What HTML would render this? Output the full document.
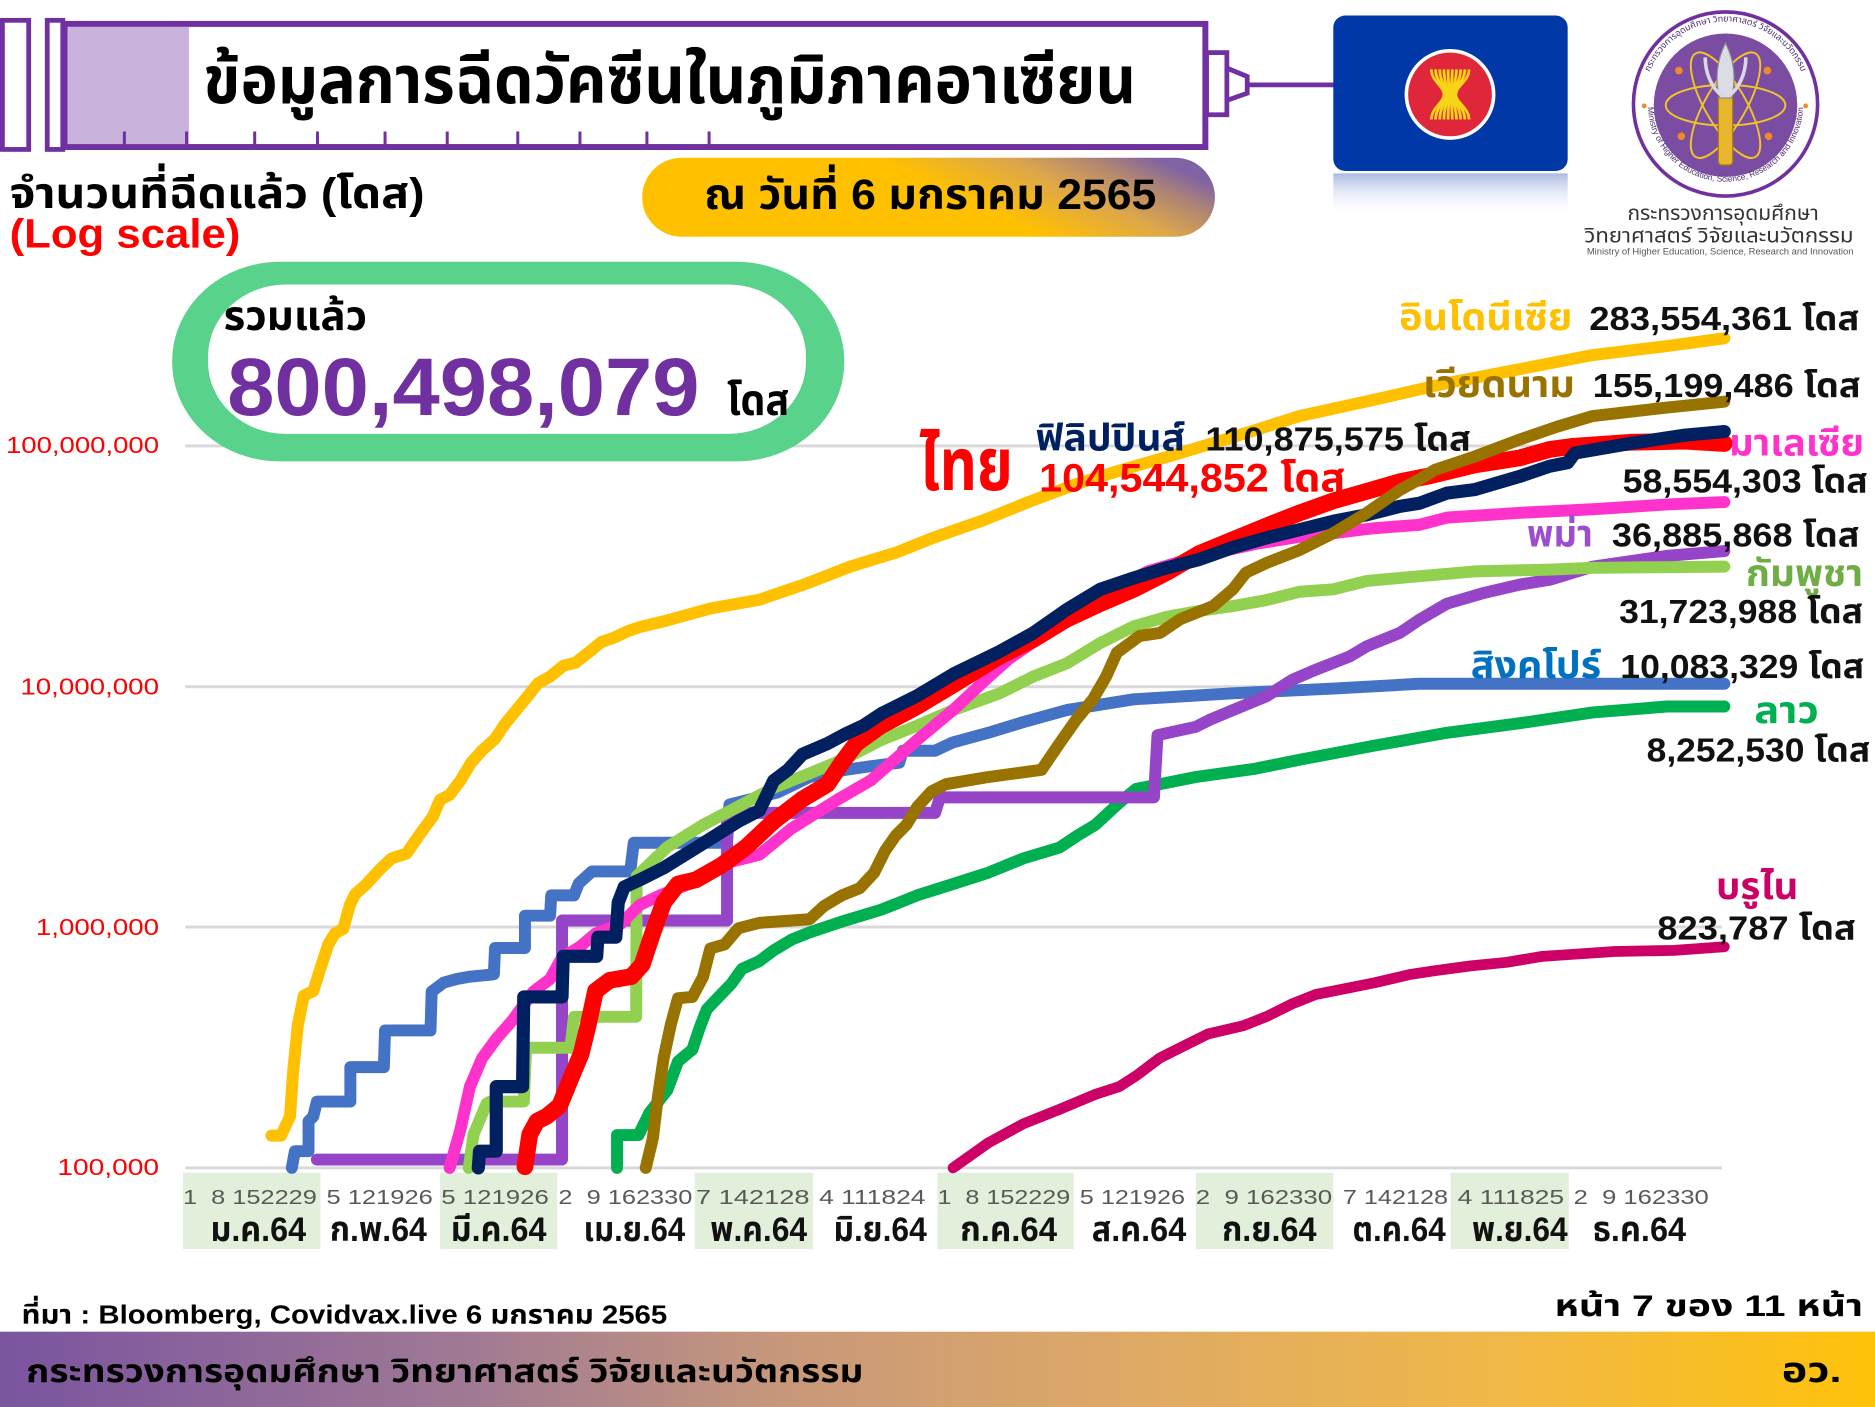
<!DOCTYPE html>
<html>
<head>
<meta charset="utf-8">
<style>
  html,body{margin:0;padding:0;background:#ffffff;overflow:hidden;}
  svg{display:block;}
  text{font-family:"Liberation Sans","Noto Sans Thai","Garuda","Loma","Tlwg Typo","DejaVu Sans",sans-serif;}
  .b{font-weight:bold;}
  .day{font-size:17px;fill:#595959;white-space:pre;}
  .mon{font-size:29px;font-weight:bold;fill:#111;}
  .yl{font-size:19px;fill:#ff0000;}
  .num{font-size:28px;font-weight:bold;fill:#111;}
  .cn{font-size:31px;font-weight:bold;}
  polyline{fill:none;stroke-linejoin:round;stroke-linecap:round;}
</style>
</head>
<body>
<svg width="1875" height="1407" viewBox="0 0 1568 1177" preserveAspectRatio="none" xmlns="http://www.w3.org/2000/svg">
  <defs>
    <linearGradient id="dateGrad" x1="0" y1="0.65" x2="1" y2="0.35">
      <stop offset="0" stop-color="#ffc000"/>
      <stop offset="0.55" stop-color="#ffc000"/>
      <stop offset="0.76" stop-color="#dca64c"/>
      <stop offset="0.9" stop-color="#ad8375"/>
      <stop offset="1" stop-color="#8063a2"/>
    </linearGradient>
    <linearGradient id="footGrad" x1="0" y1="0" x2="1" y2="0">
      <stop offset="0" stop-color="#7a549f"/>
      <stop offset="0.25" stop-color="#a07a94"/>
      <stop offset="0.42" stop-color="#c8987a"/>
      <stop offset="0.6" stop-color="#dea966"/>
      <stop offset="0.8" stop-color="#f0b848"/>
      <stop offset="1" stop-color="#ffc20a"/>
    </linearGradient>
    <linearGradient id="refl" x1="0" y1="0" x2="0" y2="1">
      <stop offset="0" stop-color="#8fa3d8" stop-opacity="0.75"/>
      <stop offset="1" stop-color="#ffffff" stop-opacity="0"/>
    </linearGradient>
    <path id="ringTop" d="M 1374,87 A 69,69 0 0 1 1512,87"/>
    <path id="ringBot" d="M 1378,87 A 65,65 0 0 0 1508,87"/>
  </defs>

  <!-- ===== Syringe header ===== -->
  <rect x="2" y="17" width="22" height="108" fill="#fff" stroke="#7030a0" stroke-width="4"/>
  <rect x="39.5" y="17" width="13" height="108" fill="#fff" stroke="#7030a0" stroke-width="4"/>
  <rect x="54" y="20" width="954" height="103" fill="#fff" stroke="#7030a0" stroke-width="5"/>
  <rect x="56.5" y="22.5" width="101.5" height="98" fill="#c9b3dd"/>
  <g stroke="#7030a0" stroke-width="2.5">
    <line x1="104" y1="110" x2="104" y2="121"/>
    <line x1="156" y1="110" x2="156" y2="121"/>
    <line x1="213" y1="110" x2="213" y2="121"/>
    <line x1="265.5" y1="110" x2="265.5" y2="121"/>
    <line x1="322" y1="110" x2="322" y2="121"/>
    <line x1="374" y1="110" x2="374" y2="121"/>
    <line x1="433" y1="110" x2="433" y2="121"/>
    <line x1="485" y1="110" x2="485" y2="121"/>
    <line x1="541" y1="110" x2="541" y2="121"/>
    <line x1="593" y1="110" x2="593" y2="121"/>
  </g>
  <rect x="1009" y="44" width="17" height="52" fill="#fff" stroke="#7030a0" stroke-width="4"/>
  <path d="M1026,57 L1043,64 L1043,78 L1026,84 Z" fill="#fff" stroke="#7030a0" stroke-width="4"/>
  <line x1="1043" y1="71" x2="1117" y2="71" stroke="#7030a0" stroke-width="4"/>
  <text x="170" y="86" class="b" font-size="56" fill="#000" textLength="780" lengthAdjust="spacingAndGlyphs">ข้อมูลการฉีดวัคซีนในภูมิภาคอาเซียน</text>

  <!-- ===== ASEAN flag ===== -->
  <rect x="1115" y="145" width="196" height="36" fill="url(#refl)"/>
  <rect x="1115" y="13" width="196" height="130" rx="10" ry="10" fill="#0038a8"/>
  <circle cx="1212.6" cy="79" r="36.5" fill="#e0263a" stroke="#ffffff" stroke-width="3"/>
  <g stroke="#f7d417" stroke-width="2.3" fill="none">
    <path d="M1197,58 C1197,68 1207.5,72 1207.5,79 C1207.5,86 1197,90 1197,100"/>
    <path d="M1200.5,58 C1200.5,68 1208.5,72 1208.5,79 C1208.5,86 1200.5,90 1200.5,100"/>
    <path d="M1204,58 C1204,68 1209.5,72 1209.5,79 C1209.5,86 1204,90 1204,100"/>
    <path d="M1207.5,58 C1207.5,68 1210.5,72 1210.5,79 C1210.5,86 1207.5,90 1207.5,100"/>
    <path d="M1211,58 C1211,68 1211.8,72 1211.8,79 C1211.8,86 1211,90 1211,100"/>
    <path d="M1214.5,58 C1214.5,68 1213.2,72 1213.2,79 C1213.2,86 1214.5,90 1214.5,100"/>
    <path d="M1218,58 C1218,68 1214.5,72 1214.5,79 C1214.5,86 1218,90 1218,100"/>
    <path d="M1221.5,58 C1221.5,68 1215.5,72 1215.5,79 C1215.5,86 1221.5,90 1221.5,100"/>
    <path d="M1225,58 C1225,68 1216.5,72 1216.5,79 C1216.5,86 1225,90 1225,100"/>
    <path d="M1228.5,58 C1228.5,68 1217.5,72 1217.5,79 C1217.5,86 1228.5,90 1228.5,100"/>
  </g>

  <!-- ===== MHESI logo ===== -->
  <circle cx="1443" cy="87" r="77" fill="#ffffff" stroke="#7030a0" stroke-width="3"/>
  <circle cx="1443" cy="88" r="60" fill="#7a4ca2"/>
  <text font-size="7.5" fill="#4b2a72"><textPath href="#ringTop" startOffset="50%" text-anchor="middle">กระทรวงการอุดมศึกษา วิทยาศาสตร์ วิจัยและนวัตกรรม</textPath></text>
  <text font-size="7" fill="#4b2a72"><textPath href="#ringBot" startOffset="50%" text-anchor="middle">Ministry of Higher Education, Science, Research and Innovation</textPath></text>
  <circle cx="1375" cy="88.6" r="2" fill="#f08a24"/>
  <circle cx="1510" cy="88.6" r="2" fill="#f08a24"/>
  <g fill="none" stroke="#f0c428" stroke-width="1.6">
    <ellipse cx="1443" cy="88" rx="50" ry="17"/>
    <ellipse cx="1443" cy="88" rx="50" ry="17" transform="rotate(60 1443 88)"/>
    <ellipse cx="1443" cy="88" rx="50" ry="17" transform="rotate(-60 1443 88)"/>
  </g>
  <circle cx="1404" cy="59" r="3.2" fill="#f08a24"/>
  <circle cx="1478" cy="59" r="3.2" fill="#f08a24"/>
  <circle cx="1406" cy="114" r="3.2" fill="#f08a24"/>
  <circle cx="1479" cy="114" r="3.2" fill="#f08a24"/>
  <rect x="1437" y="78" width="12" height="60" rx="3" fill="#e7b62c" stroke="#a87a10" stroke-width="1"/>
  <path d="M1443,36 C1450,50 1452,66 1448,82 L1438,82 C1434,66 1436,50 1443,36 Z" fill="#dcdce4" stroke="#8a8a98" stroke-width="1"/>
  <path d="M1426,48 C1426,62 1432,74 1440,80" fill="none" stroke="#d8d8e0" stroke-width="3"/>
  <path d="M1460,48 C1460,62 1454,74 1446,80" fill="none" stroke="#d8d8e0" stroke-width="3"/>
  <text x="1361" y="184" font-size="17" fill="#333" textLength="160" lengthAdjust="spacingAndGlyphs">กระทรวงการอุดมศึกษา</text>
  <text x="1325" y="203" font-size="17" fill="#333" textLength="225" lengthAdjust="spacingAndGlyphs">วิทยาศาสตร์ วิจัยและนวัตกรรม</text>
  <text x="1327" y="213" font-size="7.5" fill="#555" textLength="223" lengthAdjust="spacingAndGlyphs">Ministry of Higher Education, Science, Research and Innovation</text>

  <!-- ===== Left headings ===== -->
  <text x="8" y="174" class="b" font-size="36" fill="#000" textLength="347" lengthAdjust="spacingAndGlyphs">จำนวนที่ฉีดแล้ว (โดส)</text>
  <text x="8" y="207" class="b" font-size="34" fill="#ff0000" textLength="193" lengthAdjust="spacingAndGlyphs">(Log scale)</text>

  <!-- date pill -->
  <rect x="537" y="132" width="479" height="66" rx="33" ry="33" fill="url(#dateGrad)"/>
  <text x="589" y="175" class="b" font-size="36" fill="#000" textLength="378" lengthAdjust="spacingAndGlyphs">ณ วันที่ 6 มกราคม 2565</text>

  <!-- ===== Gridlines ===== -->
  <g stroke="#d9d9d9" stroke-width="2.5">
    <line x1="155" y1="373" x2="1440" y2="373"/>
    <line x1="155" y1="574.5" x2="1440" y2="574.5"/>
    <line x1="155" y1="775.5" x2="1440" y2="775.5"/>
    <line x1="155" y1="977" x2="1440" y2="977"/>
  </g>
  <text x="133" y="379" class="yl" text-anchor="end" textLength="128" lengthAdjust="spacingAndGlyphs">100,000,000</text>
  <text x="133" y="581" class="yl" text-anchor="end" textLength="116" lengthAdjust="spacingAndGlyphs">10,000,000</text>
  <text x="133" y="782" class="yl" text-anchor="end" textLength="103" lengthAdjust="spacingAndGlyphs">1,000,000</text>
  <text x="133" y="983" class="yl" text-anchor="end" textLength="85" lengthAdjust="spacingAndGlyphs">100,000</text>

  <!-- total pill -->
  <rect x="144" y="219" width="562" height="167" rx="90" ry="83" fill="#59d28b"/>
  <rect x="174" y="238" width="500" height="125" rx="65" ry="60" fill="#ffffff"/>
  <text x="187" y="276" class="b" font-size="34" fill="#000" textLength="120" lengthAdjust="spacingAndGlyphs">รวมแล้ว</text>
  <text x="190" y="347" class="b" font-size="68" fill="#7030a0" textLength="395" lengthAdjust="spacingAndGlyphs">800,498,079</text>
  <text x="608" y="347" class="b" font-size="36" fill="#000" textLength="52" lengthAdjust="spacingAndGlyphs">โดส</text>

  <!-- ===== X axis category boxes ===== -->
  <g fill="#e2efda">
    <rect x="153" y="981" width="115" height="64"/>
    <rect x="368" y="981" width="98" height="64"/>
    <rect x="581" y="981" width="99" height="64"/>
    <rect x="784" y="981" width="114" height="64"/>
    <rect x="1000" y="981" width="115" height="64"/>
    <rect x="1213" y="981" width="99" height="64"/>
  </g>
  <g class="day">
    <text x="153" y="1007" class="day" textLength="112" lengthAdjust="spacingAndGlyphs">1  8 152229</text>
    <text x="273" y="1007" class="day" textLength="89" lengthAdjust="spacingAndGlyphs">5 121926</text>
    <text x="369" y="1007" class="day" textLength="90" lengthAdjust="spacingAndGlyphs">5 121926</text>
    <text x="467" y="1007" class="day" textLength="112" lengthAdjust="spacingAndGlyphs">2  9 162330</text>
    <text x="582" y="1007" class="day" textLength="95" lengthAdjust="spacingAndGlyphs">7 142128</text>
    <text x="685" y="1007" class="day" textLength="89" lengthAdjust="spacingAndGlyphs">4 111824</text>
    <text x="784" y="1007" class="day" textLength="111" lengthAdjust="spacingAndGlyphs">1  8 152229</text>
    <text x="903" y="1007" class="day" textLength="88" lengthAdjust="spacingAndGlyphs">5 121926</text>
    <text x="1000" y="1007" class="day" textLength="114" lengthAdjust="spacingAndGlyphs">2  9 162330</text>
    <text x="1123" y="1007" class="day" textLength="88" lengthAdjust="spacingAndGlyphs">7 142128</text>
    <text x="1219" y="1007" class="day" textLength="89" lengthAdjust="spacingAndGlyphs">4 111825</text>
    <text x="1316" y="1007" class="day" textLength="113" lengthAdjust="spacingAndGlyphs">2  9 162330</text>
  </g>
  <g>
    <text x="176" y="1038" class="mon" textLength="80" lengthAdjust="spacingAndGlyphs">ม.ค.64</text>
    <text x="276" y="1038" class="mon" textLength="81" lengthAdjust="spacingAndGlyphs">ก.พ.64</text>
    <text x="377" y="1038" class="mon" textLength="80" lengthAdjust="spacingAndGlyphs">มี.ค.64</text>
    <text x="488" y="1038" class="mon" textLength="85" lengthAdjust="spacingAndGlyphs">เม.ย.64</text>
    <text x="594" y="1038" class="mon" textLength="81" lengthAdjust="spacingAndGlyphs">พ.ค.64</text>
    <text x="697" y="1038" class="mon" textLength="78" lengthAdjust="spacingAndGlyphs">มิ.ย.64</text>
    <text x="803" y="1038" class="mon" textLength="81" lengthAdjust="spacingAndGlyphs">ก.ค.64</text>
    <text x="913" y="1038" class="mon" textLength="79" lengthAdjust="spacingAndGlyphs">ส.ค.64</text>
    <text x="1022" y="1038" class="mon" textLength="79" lengthAdjust="spacingAndGlyphs">ก.ย.64</text>
    <text x="1131" y="1038" class="mon" textLength="78" lengthAdjust="spacingAndGlyphs">ต.ค.64</text>
    <text x="1231" y="1038" class="mon" textLength="80" lengthAdjust="spacingAndGlyphs">พ.ย.64</text>
    <text x="1332" y="1038" class="mon" textLength="78" lengthAdjust="spacingAndGlyphs">ธ.ค.64</text>
  </g>

  <!-- ===== Series ===== -->
  <!-- Brunei -->
  <polyline stroke="#cc0066" stroke-width="9" points="797,977 826.5,956 856,940 886,928 916,915.5 936,909 950,900 970,885 990,875 1010,865 1040,858 1060,850 1080,840 1100,832 1120,828 1150,822 1180,815 1200,812 1230,808 1260,805 1290,800 1320,798 1350,796 1400,795 1442,792"/>
  <!-- Laos -->
  <polyline stroke="#00b050" stroke-width="10" points="516,977 516,949.5 534,949.5 543,931 558,912 567,888 579,878 585,860 591,844.5 600,835 611.5,823 620.5,810.5 635,804 647,795 662,786 677,780 707,770 737,761 767,749 797,739.5 826.5,730 856,718 886,709 901,699 916,690 936,671.5 950,660 1000,650 1050,643 1087,635.5 1148,624 1210,613 1271,605 1332,596 1394,591 1442,591"/>
  <!-- Singapore -->
  <polyline stroke="#4472c4" stroke-width="10" points="244,977 246.6,963 258,963 258,938 262,934 265,921.5 293,921.5 293,892.7 321,892.7 322,862 360,862 361,829.5 371,822 382,819 393,817 413,815 414,793 439,793 439,766 460,766 461,749 480,749 484,739 495,729 527,729 530,705 608,705 610,673 650,663 677,650 707,644 728,641 752,638 755,628 782,628 797,621 826.5,613 856,604 892,594 948,585 1031,580 1115,576 1187,572 1300,572 1442,572"/>
  <!-- Myanmar -->
  <polyline stroke="#9645c9" stroke-width="10" points="265,970 470,970 470,770 608,770 608,680 782,680 786,667 965,667 968,615 1000,608 1012,602 1031,594 1059,582.5 1081,568.5 1101,560 1129,549 1143,540.6 1170.5,529.5 1187,518.4 1210,505 1241,496 1271,489 1296,485 1332,474 1394,465 1442,461"/>
  <!-- Cambodia -->
  <polyline stroke="#92d050" stroke-width="10" points="392,977 396,949 407,923 410,921.5 438,921.5 440,876.5 477,876.5 480,850.6 532,850.6 532.4,733 558,708.6 588,690 617.5,674.6 647,659 677,647 707,634.5 737,619 767,607 797,594 836,580 864,566 892,555 920,538 948,524 975.5,516 1003,511 1031,507 1059,502 1087,495 1115,493 1143,486 1170.5,483.5 1233,478 1296,476.5 1332,475 1442,474"/>
  <!-- Malaysia -->
  <polyline stroke="#ff33cc" stroke-width="10" points="376,977 385,945 393,909 403,885.5 415,869 429,853 446,829.5 460,819 470,801 485,792 498,781 519,773 535,757 552,749 580,738 611,721 635,715 662,693 701,668.5 728,653 767,619 797,594 826.5,566.5 844,551 870,533 900,512 930,493 960,478 1000,466 1050,455 1087,449 1115,446 1148,442 1187,439 1210,433 1271,429 1332,426 1394,422 1442,420"/>
  <!-- Thailand -->
  <polyline stroke="#ff0000" stroke-width="14" points="439,976 443,949 449,938 457,934 468,925 477,903 486,881.5 492,857 498,829 510,820 528,817 537,807 546,780 555,755 567,739.5 582,736 603,724 623.5,709 647,687 671,668.5 692,656 704,638 716,622 737,607 767,591 797,573 836,549 864,535 892,518 920,505 948,493 975.5,479 1003,463 1031,451.5 1059,440 1087,429 1115,419 1143,411 1170.5,403 1196,398 1233,389 1271,383 1296,376 1314,373.5 1363,370 1409,369 1442,371"/>
  <!-- Philippines -->
  <polyline stroke="#002060" stroke-width="11" points="400,977 401,963 415,963 415,909 437,909 438,834 470,834 471,800 499,800 500,784 515,784 517,755 522,742 535,736 555,726 588,705.5 617.5,687 635,678 647,653 659,644 671,631 692,622 707,614 722,607 737,597 767,582 797,564 836,545 864,529.5 892,510 920,493 948,483.5 975.5,475 1003,468 1031,458 1059,450 1087,443 1115,436 1143,430.6 1170.5,423.6 1187,421 1210,412.5 1233,409.6 1271,398.5 1296,390 1311,387 1317,379 1363,371 1409,364 1442,361"/>
  <!-- Vietnam -->
  <polyline stroke="#997300" stroke-width="10" points="540,977 546,952 550,919 555,885 561,857 567,835 579,834 588,817 594,793.5 606,790 617.5,776.5 635,772 677,769 689,758 704,749 719,743 731,730 740,712 749,699 758,690 767,675 779,662 791,656 826.5,650 871,644 886,622 900,602 914,585 925,566 934,546 953,532 970,529.5 987,518 1014.5,507 1031,493 1042,479 1059,471 1087,460 1115,446 1143,429 1170.5,410 1187,401 1200,393 1233,382 1270,368 1302,357 1332,348 1393,341 1442,336"/>
  <!-- Indonesia -->
  <polyline stroke="#ffc000" stroke-width="10" points="227,950 235,950 242.5,934 245,898 249,858 254,833 262,829 268,810 274.5,790 280,781 287,777 292.6,757 297,748 305,741 318,727 327.5,718 340,714 351,698 362,683 368,669 376,665 385,653 394,638 404,627 414,618 422,606 431,595 440,584 450,571.5 460,566 471,557 481,554.5 492,546 503,537 513,533.6 525,528 535,524.6 558,519 594,509 635,501.7 675,488 711,474 750,462 780,450 823,435 860,420 900,405 935,394 980,381 1030,366 1087,348 1151,334 1210,320.5 1270,309 1332,297 1390,290 1442,283"/>

  <!-- ===== Series labels ===== -->
  <text x="1170" y="276" class="cn" fill="#ffc000" textLength="145" lengthAdjust="spacingAndGlyphs">อินโดนีเซีย</text>
  <text x="1329" y="276" class="num" textLength="226" lengthAdjust="spacingAndGlyphs">283,554,361 โดส</text>
  <text x="1190" y="332" class="cn" fill="#997300" textLength="127" lengthAdjust="spacingAndGlyphs">เวียดนาม</text>
  <text x="1332" y="332" class="num" textLength="224" lengthAdjust="spacingAndGlyphs">155,199,486 โดส</text>
  <text x="866" y="377" class="cn" fill="#002060" textLength="125" lengthAdjust="spacingAndGlyphs">ฟิลิปปินส์</text>
  <text x="1008" y="377" class="num" textLength="222" lengthAdjust="spacingAndGlyphs">110,875,575 โดส</text>
  <text x="769" y="410" class="b" font-size="62" fill="#ff0000" textLength="78" lengthAdjust="spacingAndGlyphs">ไทย</text>
  <text x="869" y="411" class="b" font-size="33" fill="#ff0000" textLength="256" lengthAdjust="spacingAndGlyphs">104,544,852 โดส</text>
  <text x="1446" y="381" class="cn" fill="#ff33cc" textLength="113" lengthAdjust="spacingAndGlyphs">มาเลเซีย</text>
  <text x="1357" y="412" class="num" textLength="205" lengthAdjust="spacingAndGlyphs">58,554,303 โดส</text>
  <text x="1277" y="457" class="cn" fill="#9b4fd0" textLength="55" lengthAdjust="spacingAndGlyphs">พม่า</text>
  <text x="1348" y="457" class="num" textLength="207" lengthAdjust="spacingAndGlyphs">36,885,868 โดส</text>
  <text x="1460" y="490" class="cn" fill="#70ad47" textLength="98" lengthAdjust="spacingAndGlyphs">กัมพูชา</text>
  <text x="1354" y="521" class="num" textLength="204" lengthAdjust="spacingAndGlyphs">31,723,988 โดส</text>
  <text x="1230" y="567" class="cn" fill="#0070c0" textLength="109" lengthAdjust="spacingAndGlyphs">สิงคโปร์</text>
  <text x="1355" y="567" class="num" textLength="204" lengthAdjust="spacingAndGlyphs">10,083,329 โดส</text>
  <text x="1467" y="605" class="cn" fill="#00b050" textLength="54" lengthAdjust="spacingAndGlyphs">ลาว</text>
  <text x="1377" y="637" class="num" textLength="187" lengthAdjust="spacingAndGlyphs">8,252,530 โดส</text>
  <text x="1435" y="752" class="cn" fill="#cc0066" textLength="69" lengthAdjust="spacingAndGlyphs">บรูไน</text>
  <text x="1386" y="786" class="num" textLength="166" lengthAdjust="spacingAndGlyphs">823,787 โดส</text>

  <!-- ===== Footer ===== -->
  <text x="18" y="1107" class="b" font-size="22" fill="#000" textLength="540" lengthAdjust="spacingAndGlyphs">ที่มา : Bloomberg, Covidvax.live 6 มกราคม 2565</text>
  <text x="1300" y="1101" class="b" font-size="25" fill="#000" textLength="258" lengthAdjust="spacingAndGlyphs">หน้า 7 ของ 11 หน้า</text>
  <rect x="0" y="1114" width="1568" height="63" fill="url(#footGrad)"/>
  <text x="22" y="1156" class="b" font-size="27" fill="#000" textLength="700" lengthAdjust="spacingAndGlyphs">กระทรวงการอุดมศึกษา วิทยาศาสตร์ วิจัยและนวัตกรรม</text>
  <text x="1490" y="1156" class="b" font-size="29" fill="#000" textLength="50" lengthAdjust="spacingAndGlyphs">อว.</text>
</svg>
</body>
</html>
